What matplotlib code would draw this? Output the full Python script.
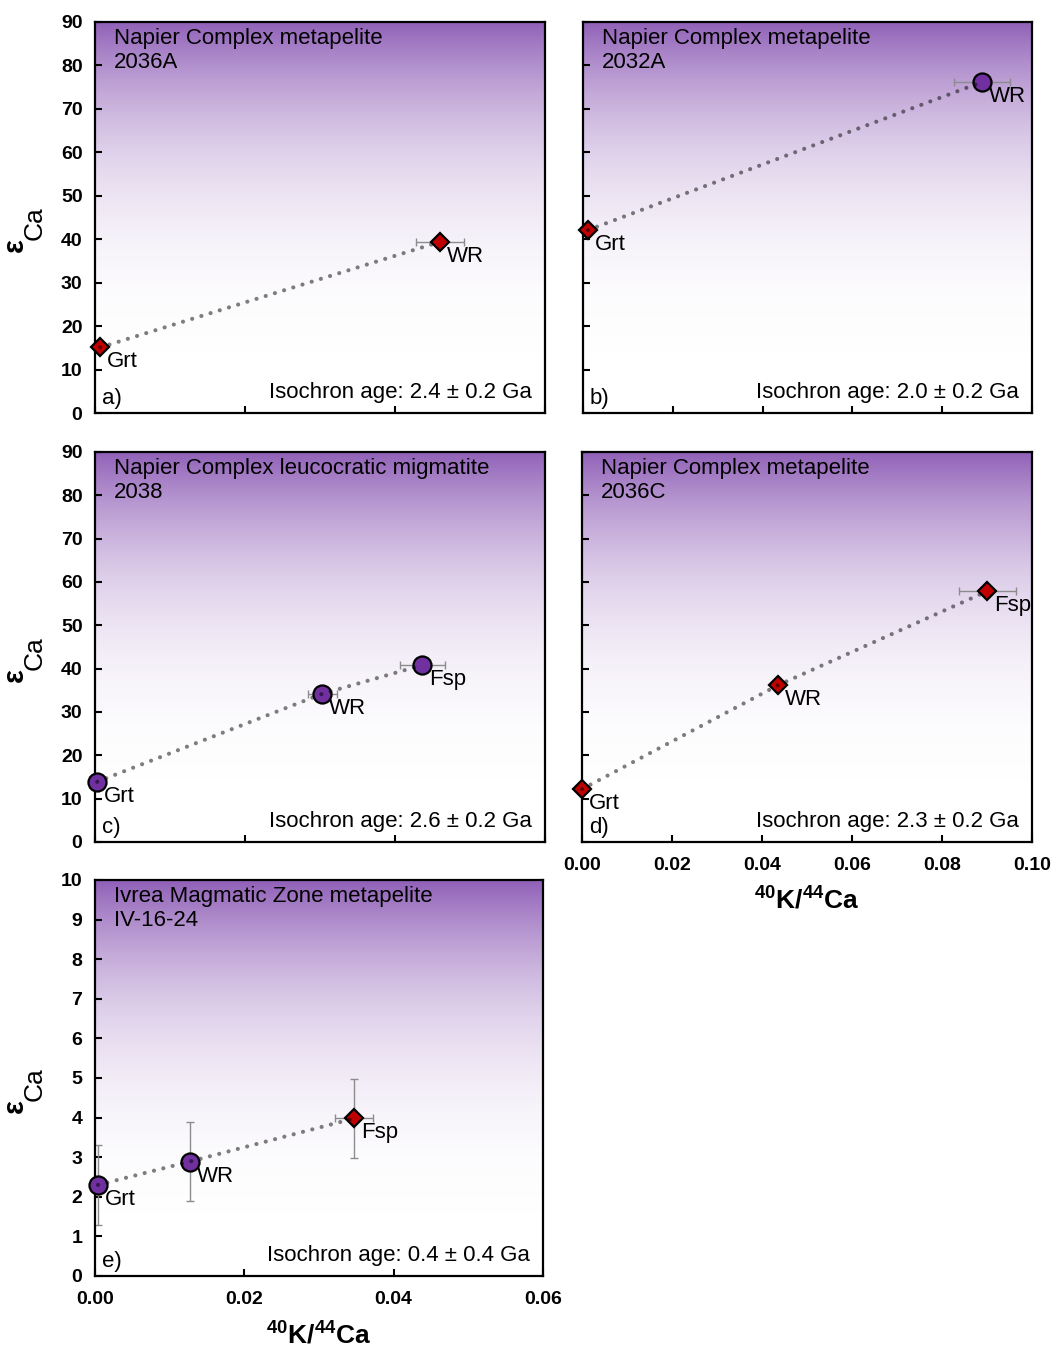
import numpy as np
import matplotlib
matplotlib.use("Agg")
import matplotlib.pyplot as plt
from matplotlib.colors import LinearSegmentedColormap

plt.rcParams["font.family"] = ["Liberation Sans", "DejaVu Sans"]
plt.rcParams["mathtext.default"] = "regular"

# ---------------------------------------------------------------------------
# Data: 40K/44Ca and epsilon-Ca for each sample (x, y, x-error, y-error).
# ---------------------------------------------------------------------------
a_minerals = ["Grt", "WR"]
a_k_ca = [0.0007, 0.0460]
a_eps = [15.1, 39.4]
a_xerr = [0.0, 0.0032]
a_yerr = [0.0, 0.0]
a_marker = ["D", "D"]

b_minerals = ["Grt", "WR"]
b_k_ca = [0.0011, 0.0889]
b_eps = [42.1, 76.2]
b_xerr = [0.0, 0.0063]
b_yerr = [0.0, 0.0]
b_marker = ["D", "o"]

c_minerals = ["Grt", "WR", "Fsp"]
c_k_ca = [0.0003, 0.0303, 0.0436]
c_eps = [13.9, 34.2, 40.8]
c_xerr = [0.0, 0.0019, 0.0030]
c_yerr = [0.0, 0.0, 0.0]
c_marker = ["o", "o", "o"]

d_minerals = ["Grt", "WR", "Fsp"]
d_k_ca = [0.0, 0.0436, 0.0901]
d_eps = [12.2, 36.2, 57.9]
d_xerr = [0.0, 0.0010, 0.0064]
d_yerr = [0.0, 0.0, 0.0]
d_marker = ["D", "D", "D"]

e_minerals = ["Grt", "WR", "Fsp"]
e_k_ca = [0.0004, 0.0127, 0.0347]
e_eps = [2.30, 2.89, 3.98]
e_xerr = [0.0, 0.0, 0.0025]
e_yerr = [1.0, 1.0, 1.0]
e_marker = ["o", "o", "D"]

titles = ["Napier Complex metapelite\n2036A",
          "Napier Complex metapelite\n2032A",
          "Napier Complex leucocratic migmatite\n2038",
          "Napier Complex metapelite\n2036C",
          "Ivrea Magmatic Zone metapelite\nIV-16-24"]
ages = ["2.4 ± 0.2", "2.0 ± 0.2", "2.6 ± 0.2", "2.3 ± 0.2", "0.4 ± 0.4"]
panel_tags = ["a)", "b)", "c)", "d)", "e)"]

RED = "#c00000"
PURPLE = "#7030a0"

# purple at the top fading quickly to white
grad_cmap = LinearSegmentedColormap.from_list("fade", ["#ffffff", "#9161b8"])
fade = (np.linspace(1, 0, 256) ** 3)[:, None]

W, H = 1053, 1348
fig = plt.figure(figsize=(W / 100, H / 100), dpi=100)


def px_axes(x0, y0, x1, y1):
    return fig.add_axes([x0 / W, 1 - y1 / H, (x1 - x0) / W, (y1 - y0) / H])


def eps_label(ax):
    # epsilon with a large, strongly lowered "Ca" subscript, rotated
    bb = ax.get_position()
    yc = (bb.y0 + bb.y1) / 2
    fig.text(15 / W, yc - 28 / H, "ε", rotation=90, ha="center", va="center",
             fontsize=21, fontweight="bold")
    fig.text(35 / W, yc - 6 / H, "Ca", rotation=90, ha="center", va="center",
             fontsize=19)


def draw_panel(ax, k, x, y, xerr, yerr, markers, names, xmax, ymax, ystep,
               show_xlabels, show_ylabels):
    ax.imshow(fade, extent=[0, 1, 0, 1], transform=ax.transAxes, aspect="auto",
              cmap=grad_cmap, vmin=0, vmax=1, zorder=0)
    ax.errorbar(x, y, xerr=xerr, yerr=yerr, fmt="none", ecolor="#8c8c8c",
                elinewidth=1, capsize=3, capthick=1, zorder=2)
    for xi, yi, m, name in zip(x, y, markers, names):
        ax.plot(xi, yi, marker=m, ms=13 if m == "o" else 9.6,
                mfc=PURPLE if m == "o" else RED, mec="black", mew=1.6,
                ls="none", zorder=3, clip_on=False)
        ax.annotate(name, (xi, yi), xytext=(7, -4), textcoords="offset pixels",
                    ha="left", va="top", fontsize=16, zorder=5)
    ax.plot(x, y, color="black", alpha=0.5, lw=3, ls=(0, (0.01, 2.3)),
            dash_capstyle="round", zorder=4, clip_on=False)

    ax.set_xlim(0, xmax)
    ax.set_ylim(0, ymax)
    ax.set_xticks(np.arange(0, xmax + 1e-9, 0.02))
    ax.set_yticks(np.arange(0, ymax + 1e-9, ystep))
    ax.xaxis.set_major_formatter(plt.FormatStrFormatter("%.2f"))
    ax.tick_params(direction="in", length=5, width=1.5, labelsize=14,
                   labelbottom=show_xlabels, labelleft=show_ylabels)
    ax.tick_params(axis="y", pad=9)
    ax.tick_params(axis="x", pad=11)
    for lab in ax.get_xticklabels() + ax.get_yticklabels():
        lab.set_fontweight("bold")
    for sp in ax.spines.values():
        sp.set_linewidth(1.6)

    ax.text(0.042, 0.985, titles[k], transform=ax.transAxes, ha="left", va="top",
            fontsize=16, zorder=6)
    ax.text(0.97, 0.025, f"Isochron age: {ages[k]} Ga", transform=ax.transAxes,
            ha="right", va="bottom", fontsize=16, zorder=6)
    ax.text(0.015, 0.01, panel_tags[k], transform=ax.transAxes, ha="left",
            va="bottom", fontsize=16, zorder=6)

    if show_ylabels:
        eps_label(ax)
    if show_xlabels:
        ax.set_xlabel(r"$^{40}$K/$^{44}$Ca", fontsize=19, fontweight="bold")
        ax.xaxis.set_label_coords(0.5, -0.115)


ax_a = px_axes(95, 22, 545, 413)
ax_b = px_axes(583, 22, 1032, 413)
ax_c = px_axes(95, 452, 545, 842)
ax_d = px_axes(582, 452, 1032, 842)
ax_e = px_axes(95, 880, 543, 1276)

draw_panel(ax_a, 0, a_k_ca, a_eps, a_xerr, a_yerr, a_marker, a_minerals,
           0.06, 90, 10, False, True)
draw_panel(ax_b, 1, b_k_ca, b_eps, b_xerr, b_yerr, b_marker, b_minerals,
           0.10, 90, 10, False, False)
draw_panel(ax_c, 2, c_k_ca, c_eps, c_xerr, c_yerr, c_marker, c_minerals,
           0.06, 90, 10, False, True)
draw_panel(ax_d, 3, d_k_ca, d_eps, d_xerr, d_yerr, d_marker, d_minerals,
           0.10, 90, 10, True, False)
draw_panel(ax_e, 4, e_k_ca, e_eps, e_xerr, e_yerr, e_marker, e_minerals,
           0.06, 10, 1, True, True)

fig.savefig("out.png", dpi=100)
